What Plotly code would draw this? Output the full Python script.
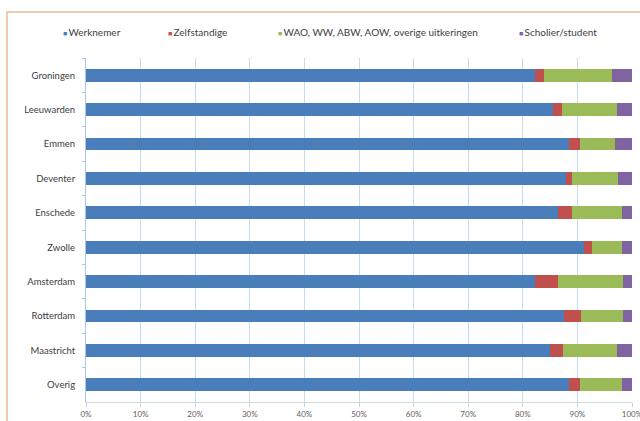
import plotly.graph_objects as go

cities = ["Groningen", "Leeuwarden", "Emmen", "Deventer", "Enschede",
          "Zwolle", "Amsterdam", "Rotterdam", "Maastricht", "Overig"]
series_names = ["Werknemer", "Zelfstandige",
                "WAO, WW, ABW, AOW, overige uitkeringen", "Scholier/student"]
werknemer = [82.3, 85.5, 88.4, 88.0, 86.4, 91.2, 82.3, 87.6, 84.9, 88.5]
zelfstandige = [1.5, 1.6, 2.0, 1.0, 2.6, 1.4, 4.1, 3.1, 2.5, 1.9]
uitkeringen = [12.5, 10.2, 6.5, 8.4, 9.1, 5.5, 11.9, 7.6, 9.9, 7.7]
scholier = [3.7, 2.7, 3.1, 2.6, 1.9, 1.9, 1.7, 1.7, 2.7, 1.9]
tick_vals = [0, 10, 20, 30, 40, 50, 60, 70, 80, 90, 100]
tick_text = ["0%", "10%", "20%", "30%", "40%", "50%", "60%", "70%", "80%", "90%", "100%"]
colors = ["#4A7EBB", "#C0504D", "#9BBB59", "#8064A2"]

values = [werknemer, zelfstandige, uitkeringen, scholier]

W, H = 640, 421
L, R, T, B = 86, 8, 58, 19
pw, ph = W - L - R, H - T - B

def px_x(px):
    return (px - L) / pw

def px_y(py):
    return 1 + (T - py) / ph

fig = go.Figure()
for name, vals, col in zip(series_names, values, colors):
    fig.add_trace(go.Bar(
        y=cities, x=vals, name=name, orientation="h",
        marker=dict(color=col, line=dict(width=0)),
        showlegend=False,
    ))

legend_px = [61, 166, 276, 517]
annotations = []
for name, col, lx in zip(series_names, colors, legend_px):
    annotations.append(dict(
        x=px_x(lx), y=px_y(32), xref="paper", yref="paper",
        xanchor="left", yanchor="middle", showarrow=False,
        text=f"<span style='color:{col};font-size:7px'>■</span>\u2009{name}",
        font=dict(family="Lato, Liberation Sans, sans-serif", size=10, color="#404040"),
    ))

fig.update_layout(
    width=W, height=H,
    margin=dict(l=L, r=R, t=T, b=B),
    barmode="stack", bargap=0.63,
    paper_bgcolor="white", plot_bgcolor="white",
    font=dict(family="Lato, Liberation Sans, sans-serif", color="#404040"),
    annotations=annotations,
    shapes=[dict(
        type="rect", xref="paper", yref="paper",
        x0=px_x(7), x1=px_x(660), y0=px_y(440), y1=px_y(12),
        line=dict(color="#EDB898", width=1.5), layer="below",
    )],
    xaxis=dict(
        range=[0, 100], tickvals=tick_vals, ticktext=tick_text,
        automargin=False, ticklabeloverflow="allow",
        showgrid=True, gridcolor="#C5DDF0", gridwidth=1,
        zeroline=False, showline=True, linecolor="#D0D8E0", linewidth=1,
        ticks="outside", ticklen=4, tickcolor="#C8D0D8",
        tickfont=dict(size=8, color="#606060"),
    ),
    yaxis=dict(
        categoryorder="array", categoryarray=cities, autorange="reversed",
        automargin=False,
        showgrid=False, zeroline=False, showline=True,
        linecolor="#A9C8E6", linewidth=1,
        ticks="outside", ticklen=3, tickcolor="#A9C8E6", tickson="boundaries",
        tickfont=dict(size=9.5, color="#404040"), ticklabelstandoff=8,
    ),
)

fig.write_html(
    "out.html",
    config={"displayModeBar": False},
    post_script="document.body.style.margin='0';document.body.style.overflow='hidden';",
)
